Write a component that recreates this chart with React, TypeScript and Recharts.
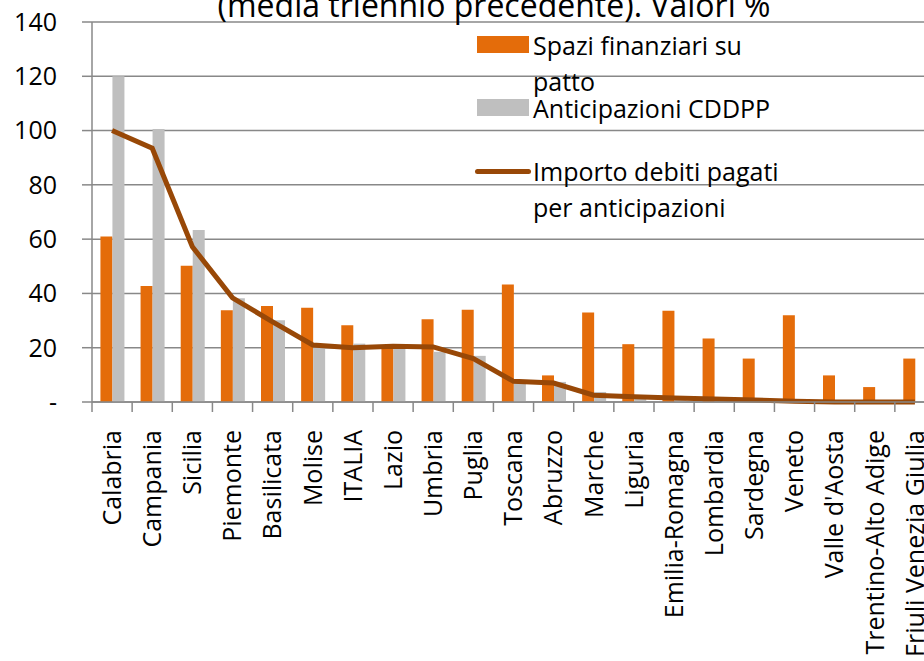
import { Bar, CartesianGrid, ComposedChart, Legend, Line, XAxis, YAxis } from 'recharts'

const regioni = [
  'Calabria',
  'Campania',
  'Sicilia',
  'Piemonte',
  'Basilicata',
  'Molise',
  'ITALIA',
  'Lazio',
  'Umbria',
  'Puglia',
  'Toscana',
  'Abruzzo',
  'Marche',
  'Liguria',
  'Emilia-Romagna',
  'Lombardia',
  'Sardegna',
  'Veneto',
  "Valle d'Aosta",
  'Trentino-Alto Adige',
  'Friuli Venezia Giulia',
]

const spaziFinanziari = [61, 42.7, 50.2, 33.8, 35.4, 34.7, 28.3, 20, 30.5, 34, 43.3, 9.8, 33, 21.3, 33.6, 23.4, 16, 32, 9.8, 5.5, 16]
const anticipazioniCDDPP = [120, 100.6, 63.4, 38.2, 30.1, 20, 21.5, 20, 18.5, 17, 8, 7.4, 3.7, 2, 1, 0.8, 0.4, 0, 0, 0, 0]
const importoDebiti = [100, 93.5, 57.2, 38.4, 29.5, 21, 20, 20.5, 20.3, 16, 7.6, 7, 2.5, 1.9, 1.5, 1.1, 0.7, 0.3, 0, 0, 0]

const yTicks = [0, 20, 40, 60, 80, 100, 120, 140]

const titolo = '(media triennio precedente). Valori %'
const nomi = ['Spazi finanziari su patto', 'Anticipazioni CDDPP', 'Importo debiti pagati per anticipazioni']

const data = regioni.map((r, i) => ({
  regione: r,
  spazi: spaziFinanziari[i],
  anticipazioni: anticipazioniCDDPP[i],
  importo: importoDebiti[i],
}))

const FONT = '"Open Sans", sans-serif'
const FS = 25
const W = 924
const H = 661
const M = { top: 22, right: -11, left: 0, bottom: 0 }
const Y_W = 92
const step = (W - M.left - M.right - Y_W) / regioni.length

function XTick(props: any) {
  const { x, y, payload } = props
  return (
    <g>
      <line x1={x - step / 2} x2={x - step / 2} y1={y} y2={y + 10} stroke="#888" strokeWidth={1.5} />
      <text
        x={x}
        y={y + 28}
        transform={`rotate(-90, ${x}, ${y + 28})`}
        textAnchor="end"
        dy="0.35em"
        fontSize={FS}
        fontFamily={FONT}
        fill="#000"
      >
        {payload.value}
      </text>
    </g>
  )
}

// legend rows placed by hand like the excel original
const rowTops = [27, 90, 153]
const legendLines = [
  ['Spazi finanziari su', 'patto'],
  ['Anticipazioni CDDPP'],
  ['Importo debiti pagati', 'per anticipazioni'],
]

function LegendBox(props: any) {
  const payload = props.payload || []
  return (
    <div style={{ position: 'relative', fontFamily: FONT, fontSize: FS, color: '#000' }}>
      {nomi.map((nome, i) => {
        const p = payload.find((q: any) => q.value === nome)
        if (!p) return null
        return (
          <div key={i} style={{ position: 'absolute', top: rowTops[i] - 27, left: 0, display: 'flex' }}>
            <div style={{ width: 58, height: 36, position: 'relative' }}>
              {p.type === 'line' ? (
                <div
                  style={{ position: 'absolute', left: 0, top: 16, width: 56, height: 5, borderRadius: 3, background: p.color }}
                />
              ) : (
                <div style={{ position: 'absolute', left: 2, top: 9, width: 52, height: 17, background: p.color }} />
              )}
            </div>
            <div style={{ lineHeight: '36px', whiteSpace: 'nowrap' }}>
              {legendLines[i].map((t, k) => (
                <div key={k}>{t}</div>
              ))}
            </div>
          </div>
        )
      })}
    </div>
  )
}

export default function App() {
  return (
    <div style={{ position: 'absolute', left: 0, top: 0, width: W, height: H, background: '#fff', overflow: 'hidden' }}>
      <ComposedChart width={W} height={H} data={data} margin={M} barCategoryGap="21%" barGap={0}>
        <CartesianGrid vertical={false} stroke="#888" strokeWidth={1.5} />
        <XAxis
          dataKey="regione"
          interval={0}
          height={H - 402}
          tick={<XTick />}
          tickLine={false}
          tickSize={0}
          tickMargin={0}
          axisLine={{ stroke: '#888', strokeWidth: 1.5 }}
        />
        <YAxis
          domain={[0, 140]}
          ticks={yTicks}
          width={Y_W}
          tickSize={10}
          tickMargin={25}
          tickFormatter={(v) => (v === 0 ? '-' : String(v))}
          tick={{ fontSize: FS, fontFamily: FONT, fill: '#000' }}
          tickLine={{ stroke: '#888', strokeWidth: 1.5 }}
          axisLine={{ stroke: '#888', strokeWidth: 1.5 }}
        />
        <Legend
          layout="vertical"
          align="center"
          verticalAlign="middle"
          content={<LegendBox />}
          wrapperStyle={{ position: 'absolute', left: 475, top: 27, width: 360, height: 200 }}
        />
        <Bar dataKey="spazi" name={nomi[0]} fill="#E46C0A" isAnimationActive={false} />
        <Bar dataKey="anticipazioni" name={nomi[1]} fill="#BFBFBF" isAnimationActive={false} />
        <Line
          dataKey="importo"
          name={nomi[2]}
          type="linear"
          stroke="#984807"
          strokeWidth={5}
          dot={false}
          activeDot={false}
          legendType="line"
          isAnimationActive={false}
        />
      </ComposedChart>
      <svg width={W} height={40} style={{ position: 'absolute', left: 0, top: 0 }}>
        <text x={494} y={17} textAnchor="middle" fontSize={32} fontFamily={FONT} fill="#000">
          {titolo}
        </text>
      </svg>
    </div>
  )
}
